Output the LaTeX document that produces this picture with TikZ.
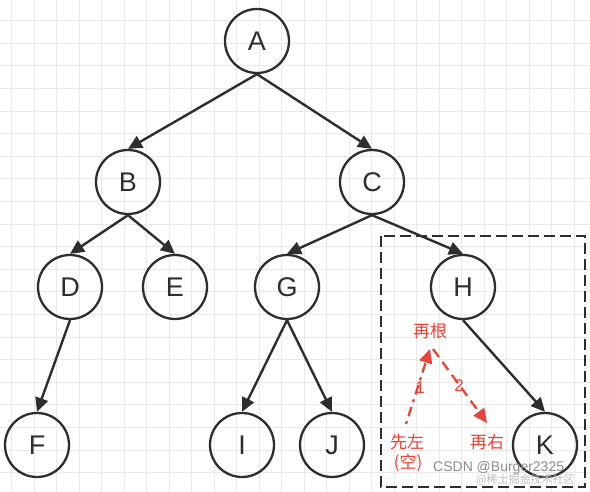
\documentclass[tikz,border=0pt]{standalone}
\usepackage{fontspec}
\setmainfont{Liberation Sans}
\newfontfamily\cjk{Noto Sans CJK SC}
\usetikzlibrary{arrows.meta}
\definecolor{ink}{HTML}{2E2E2E}
\definecolor{redann}{HTML}{EA4335}
\definecolor{gridc}{HTML}{E9E9E9}
\begin{document}
\begin{tikzpicture}[x=1pt,y=-1pt,
  treenode/.style={circle,draw=ink,line width=2.3pt,minimum size=64pt,inner sep=0pt,
    font=\fontsize{27}{30}\selectfont,text=ink},
  edge/.style={draw=ink,line width=2.4pt,-{Triangle[length=14pt,width=13pt]}},
  ann/.style={text=redann,inner sep=0pt,font=\cjk\fontsize{17}{19}\selectfont},
  annnum/.style={text=redann,inner sep=0pt,font=\fontsize{17}{19}\selectfont},
  annline/.style={draw=redann,line width=2.3pt,-{Triangle[length=14pt,width=13pt]}},
  wmark/.style={inner sep=0pt,anchor=west}]
\useasboundingbox (0,0) rectangle (590,492);
\fill[white] (0,0) rectangle (590,492);
% grid
\foreach \i in {0,...,25} \draw[gridc,line width=1pt] ({11.7+22.5*\i},0) -- ({11.7+22.5*\i},492);
\foreach \j in {0,...,20} \draw[gridc,line width=1pt] (0,{20.7+22.6*\j}) -- (590,{20.7+22.6*\j});
% nodes
\node[treenode] (A) at (257,41) {A};
\node[treenode] (B) at (128,182) {B};
\node[treenode] (C) at (372,182) {C};
\node[treenode] (D) at (70,287) {D};
\node[treenode] (E) at (175,287) {E};
\node[treenode] (G) at (287,287) {G};
\node[treenode] (H) at (463,287) {H};
\node[treenode] (F) at (37,445) {F};
\node[treenode] (I) at (242,445) {I};
\node[treenode] (J) at (332,445) {J};
\node[treenode] (K) at (545,445) {K};
% edges
\draw[edge] (A.south) -- (B.north);
\draw[edge] (A.south) -- (C.north);
\draw[edge] (B.south) -- (D.north);
\draw[edge] (B.south) -- (E.north);
\draw[edge] (C.south) -- (G.north);
\draw[edge] (C.south) -- (H.north);
\draw[edge] (D.south) -- (F.north);
\draw[edge] (G.south) -- (I.north);
\draw[edge] (G.south) -- (J.north);
\draw[edge] (H.south) -- (K.north);
% dashed frame
\draw[ink,line width=2.4pt,dash pattern=on 11pt off 5pt] (381,236) rectangle (585,487);
% annotations
\node[ann] (root) at (430,331) {再根};
\node[ann] (left) at (407,442) {先左};
\node[ann] (empty) at (408,463) {(空)};
\node[ann] (right) at (487,442) {再右};
\node[annnum] (n1) at (420,388) {1};
\node[annnum] (n2) at (459,386) {2};
\coordinate (a1s) at (406,424);
\coordinate (a1e) at (430,349);
\coordinate (a2s) at (433,349);
\coordinate (a2e) at (487,423);
\draw[annline,dash pattern=on 3pt off 5pt on 10pt off 5pt] (a1s) -- (a1e);
\draw[annline,dash pattern=on 10pt off 6pt] (a2s) -- (a2e);
% watermark
\node[wmark,text=black!45,font=\fontsize{14}{16}\selectfont] (wm1) at (433,468) {CSDN @Burger2325};
\node[wmark,text=black!25,font=\cjk\fontsize{11}{13}\selectfont] (wm2) at (476,480) {@稀土掘金技术社区};
\end{tikzpicture}
\end{document}
